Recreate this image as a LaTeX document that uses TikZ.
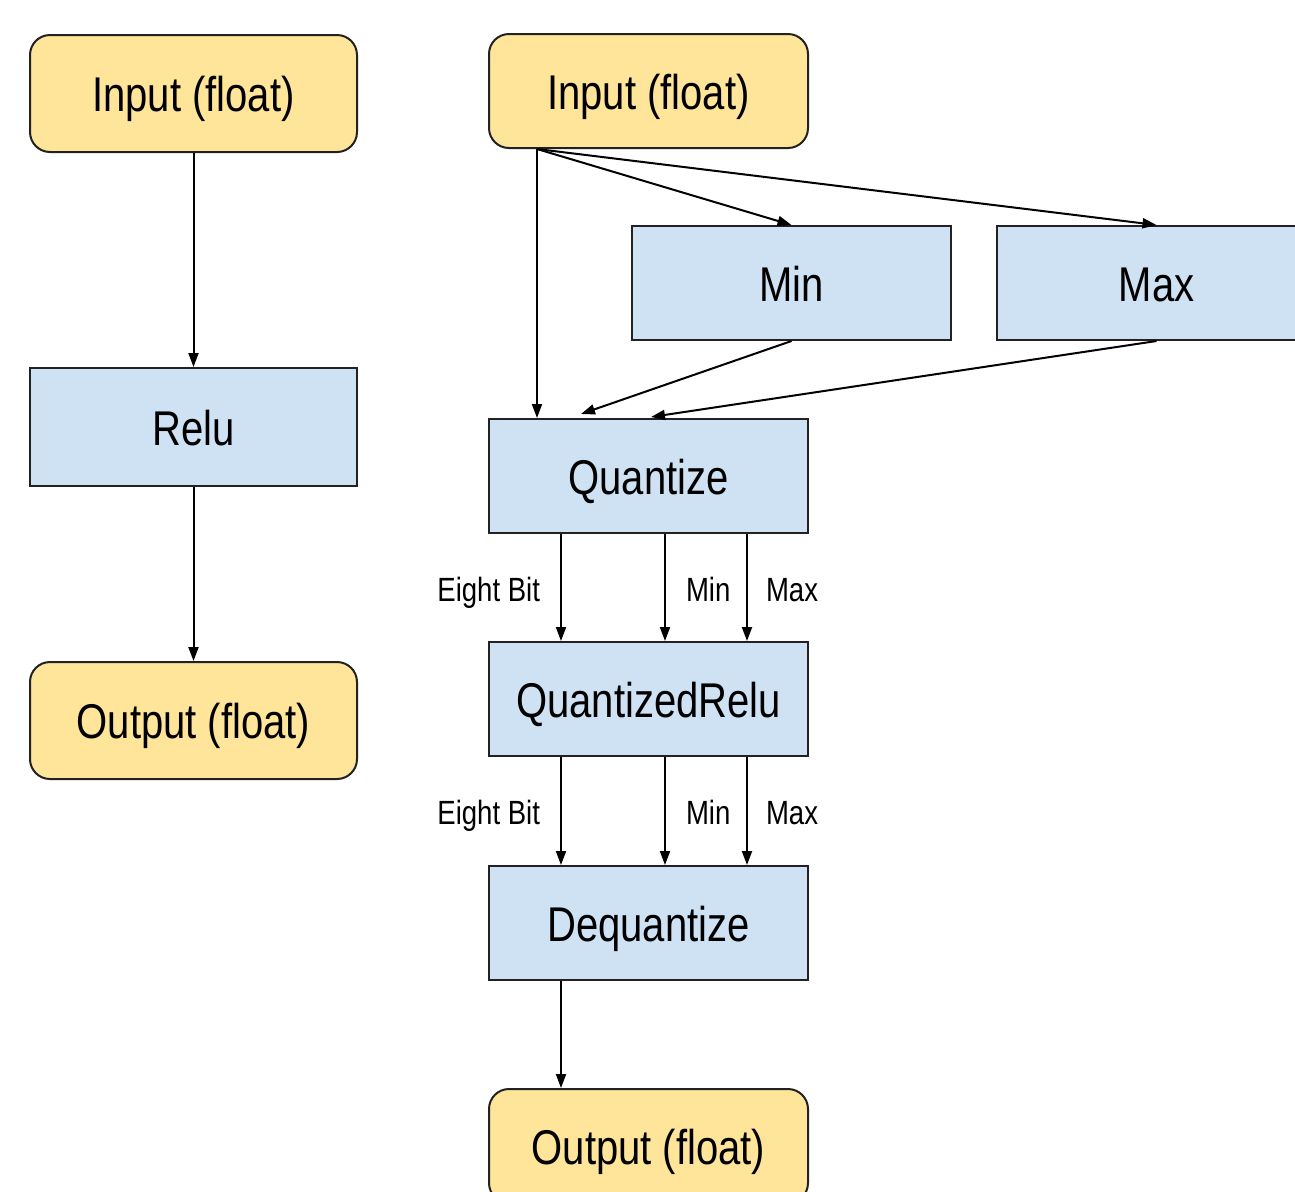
\documentclass[tikz,border=0pt]{standalone}
\usepackage{fontspec}
\setmainfont{Liberation Sans}[FakeStretch=0.82]
\usetikzlibrary{arrows.meta,calc}
\definecolor{ylw}{HTML}{FFE599}
\definecolor{blu}{HTML}{CFE2F3}
\definecolor{edge}{HTML}{222222}
\tikzset{
  base/.style={draw=edge, line width=1pt, inner sep=0pt, text height=18pt, text depth=0pt, font=\fontsize{24.4}{28}\selectfont},
  iobox/.style={base, fill=ylw, rounded corners=10pt},
  opbox/.style={base, fill=blu},
  conn/.style={draw=black, line width=1pt, -{Triangle[length=7pt,width=5pt]}},
  lbl/.style={font=\fontsize{16.8}{19}\selectfont, inner sep=0pt, text height=13.5pt, text depth=0pt},
}
\begin{document}
\begin{tikzpicture}[x=0.5pt,y=-0.5pt]
\clip (0,0) rectangle (1295,1191);
\fill[white] (0,0) rectangle (1295,1191);
% left column
\node[iobox, minimum width=163.5pt, minimum height=58.5pt] (lin) at (193.5,93.5) {Input (float)};
\node[opbox, minimum width=163.5pt, minimum height=59pt] (relu) at (193.5,427) {Relu};
\node[iobox, minimum width=163.5pt, minimum height=58.5pt] (lout) at (193.5,720.5) {Output (float)};
\draw[conn] (lin) -- (relu);
\draw[conn] (relu) -- (lout);
% right column
\node[iobox, minimum width=159.5pt, minimum height=57pt] (rin) at (648.5,91) {Input (float)};
\node[opbox, minimum width=159.5pt, minimum height=57pt] (min) at (791.5,283) {Min};
\node[opbox, minimum width=159.5pt, minimum height=57pt] (max) at (1156.5,283) {Max};
\node[opbox, minimum width=159.5pt, minimum height=57pt] (quant) at (648.5,476) {Quantize};
\node[opbox, minimum width=159.5pt, minimum height=57pt] (qrelu) at (648.5,699) {QuantizedRelu};
\node[opbox, minimum width=159.5pt, minimum height=57pt] (deq) at (648.5,923) {Dequantize};
\node[iobox, minimum width=159.5pt, minimum height=57pt] (rout) at (648.5,1146) {Output (float)};
\coordinate (src) at ($(rin.south west)+(49,0)$);
\draw[conn] (src) -- (src |- quant.north);
\draw[conn] (src) -- (min.north);
\draw[conn] (src) -- (max.north);
\draw[conn] (min.south) -- ($(quant.north west)+(93,-4)$);
\draw[conn] (max.south) -- ($(quant.north west)+(163,-1)$);
% quantize -> quantizedrelu
\draw[conn] ($(quant.south west)+(73,0)$) -- ($(qrelu.north west)+(73,0)$) node[lbl, midway, anchor=east, xshift=-10pt] {Eight Bit};
\draw[conn] ($(quant.south west)+(177,0)$) -- ($(qrelu.north west)+(177,0)$) node[lbl, midway, anchor=west, xshift=10pt] {Min};
\draw[conn] ($(quant.south west)+(259,0)$) -- ($(qrelu.north west)+(259,0)$) node[lbl, midway, anchor=west, xshift=9pt] {Max};
% quantizedrelu -> dequantize
\draw[conn] ($(qrelu.south west)+(73,0)$) -- ($(deq.north west)+(73,0)$) node[lbl, midway, anchor=east, xshift=-10pt] {Eight Bit};
\draw[conn] ($(qrelu.south west)+(177,0)$) -- ($(deq.north west)+(177,0)$) node[lbl, midway, anchor=west, xshift=10pt] {Min};
\draw[conn] ($(qrelu.south west)+(259,0)$) -- ($(deq.north west)+(259,0)$) node[lbl, midway, anchor=west, xshift=9pt] {Max};
% dequantize -> output
\draw[conn] ($(deq.south west)+(73,0)$) -- ($(rout.north west)+(73,0)$);
\end{tikzpicture}
\end{document}
